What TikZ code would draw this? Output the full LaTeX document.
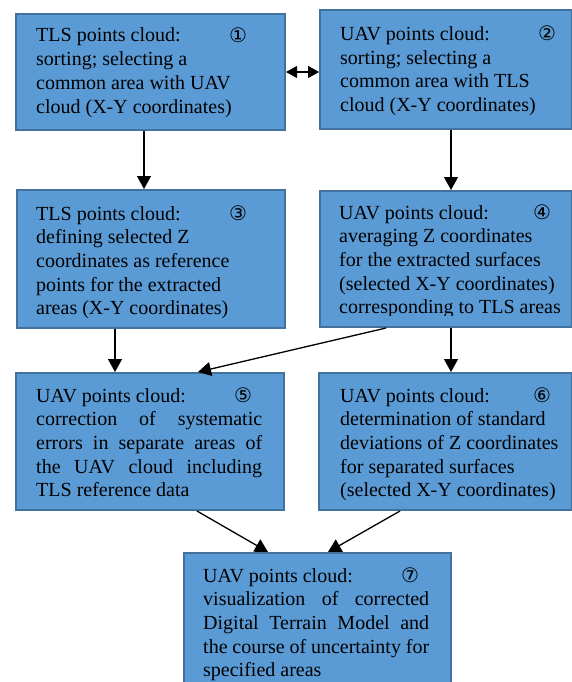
\documentclass[tikz,border=0pt]{standalone}
\usepackage{fontspec}
\setmainfont{Liberation Serif}
\newfontfamily\circfont{DejaVu Sans}
\usetikzlibrary{arrows.meta}
\definecolor{boxfill}{HTML}{5B9BD5}
\definecolor{boxdraw}{HTML}{41719C}
\newcommand{\jline}[1]{\makebox[226pt][s]{#1}}
\begin{document}
\begin{tikzpicture}[x=1pt,y=-1pt,
  box/.style={draw=boxdraw, fill=boxfill, line width=2pt, inner sep=0pt, anchor=north west},
  txt/.style={anchor=base west, inner sep=0pt, font=\fontsize{20}{23.7}\selectfont},
  num/.style={anchor=center, inner sep=0pt, font=\circfont\fontsize{20}{20}\selectfont},
  arr/.style={line width=1.3pt, -{Triangle[length=13pt,width=14pt]}},
  darr/.style={line width=1.3pt, {Triangle[length=11pt,width=12pt]}-{Triangle[length=11pt,width=12pt]}}]
\useasboundingbox (0,0) rectangle (572,682);
\clip (0,0) rectangle (572,682);

% boxes
\node[box, minimum width=269pt, minimum height=116pt] (b1) at (15,13) {};
\node[box, minimum width=252pt, minimum height=119pt] (b2) at (319,9) {};
\node[box, minimum width=268pt, minimum height=138pt] (b3) at (16,189) {};
\node[box, minimum width=252pt, minimum height=136pt] (b4) at (319,190) {};
\node[box, minimum width=268pt, minimum height=137pt] (b5) at (15,372) {};
\node[box, minimum width=253pt, minimum height=137pt] (b6) at (318,372) {};
\node[box, minimum width=267pt, minimum height=160pt] (b7) at (183,552) {};

% texts
\node[txt] (t1) at (36,42) {\parbox[t]{240pt}{TLS points cloud:\\sorting; selecting a\\common area with UAV\\cloud (X-Y coordinates)}};
\node[txt] (t2) at (340,40.5) {\parbox[t]{230pt}{UAV points cloud:\\sorting; selecting a\\common area with TLS\\cloud (X-Y coordinates)}};
\node[txt] (t3) at (36,220) {\parbox[t]{240pt}{TLS points cloud:\\defining selected Z\\coordinates as reference\\points for the extracted\\areas (X-Y coordinates)}};
\begin{scope}
\clip (b4.north west) rectangle ([yshift=13pt]b4.south east);
\node[txt] (t4) at (339,219) {\parbox[t]{230pt}{UAV points cloud:\\averaging Z coordinates\\for the extracted surfaces\\(selected X-Y coordinates)\\corresponding to TLS areas}};
\end{scope}
\node[txt] (t5) at (36,402) {\parbox[t]{240pt}{UAV points cloud:\\\jline{correction of systematic}\\\jline{errors in separate areas of}\\\jline{the UAV cloud including}\\TLS reference data}};
\node[txt] (t6) at (340,402) {\parbox[t]{230pt}{UAV points cloud:\\determination of standard\\deviations of Z coordinates\\for separated surfaces\\(selected X-Y coordinates)}};
\node[txt] (t7) at (203,582) {\parbox[t]{240pt}{UAV points cloud:\\\jline{visualization of corrected}\\\jline{Digital Terrain Model and}\\\jline{the course of uncertainty for}\\specified areas}};

% circled numbers (centred on the circle)
\node[num] (n1) at (238,35) {①};
\node[num] (n2) at (547,33.5) {②};
\node[num] (n3) at (238,213) {③};
\node[num] (n4) at (542,212) {④};
\node[num] (n5) at (243,395) {⑤};
\node[num] (n6) at (542,395) {⑥};
\node[num] (n7) at (410,575) {⑦};

% connectors
\draw[darr] (b1.east) -- (b2.west |- b1.east);
\draw[arr] ([xshift=-6.5pt]b1.south) -- ([xshift=-6.5pt]b1.south |- b3.north);
\draw[arr] ([xshift=5pt]b2.south) -- ([xshift=5pt]b2.south |- b4.north);
\draw[arr] ([xshift=-36pt]b3.south) -- ([xshift=-36pt]b3.south |- b5.north);
\draw[arr] ([xshift=-60pt]b4.south) -- ([xshift=48pt]b5.north);
\draw[arr] ([xshift=5pt]b4.south) -- ([xshift=5pt]b4.south |- b6.north);
\draw[arr] ([xshift=47pt]b5.south) -- ([xshift=-49.5pt]b7.north);
\draw[arr] ([xshift=-45.5pt]b6.south) -- ([xshift=10.5pt]b7.north);
\end{tikzpicture}
\end{document}
